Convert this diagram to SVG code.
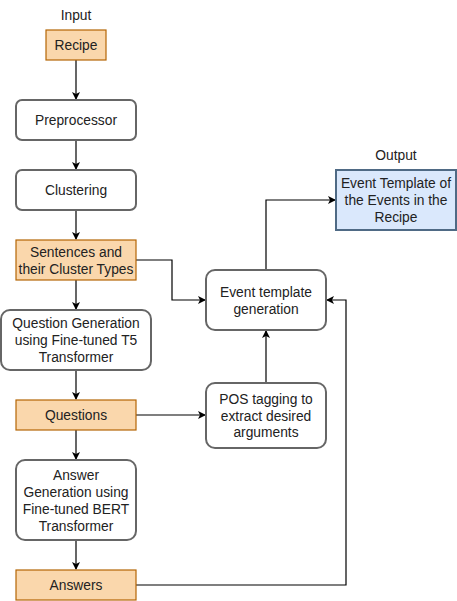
<svg xmlns="http://www.w3.org/2000/svg" width="457" height="601" viewBox="0 0 457 601">
<defs>
<marker id="arr" markerWidth="8" markerHeight="8" refX="7" refY="4" orient="auto" markerUnits="userSpaceOnUse">
<path d="M0,0 L8,4 L0,8 L2,4 Z" fill="#000"/>
</marker>
<style>
text{font-family:"Liberation Sans",Arial,sans-serif;font-size:13.8px;fill:#222;text-anchor:middle}
.org{fill:#fad7ac;stroke:#b46504;stroke-width:1.2}
.rnd{fill:#fff;stroke:#666;stroke-width:2}
.out{fill:#dae8fc;stroke:#4f6a85;stroke-width:2}
.c{fill:none;stroke:#000;stroke-width:1.2;marker-end:url(#arr)}
</style>
</defs>
<rect width="457" height="601" fill="#fff"/>
<g id="connectors">
<path class="c" d="M76,60 V99"/>
<path class="c" d="M76,140 V169"/>
<path class="c" d="M76,210 V239"/>
<path class="c" d="M76,280 V309"/>
<path class="c" d="M76,370 V399"/>
<path class="c" d="M76,430 V459"/>
<path class="c" d="M76,540 V569"/>
<path class="c" d="M136,260 H172 V300 H205"/>
<path class="c" d="M266,270 V200 H335"/>
<path class="c" d="M266,383 V331"/>
<path class="c" d="M136,415 H205"/>
<path class="c" d="M136,585 H346 V300 H327"/>
</g>
<g id="input-label"><text x="76" y="20">Input</text></g>
<g id="recipe"><rect class="org" x="46" y="30" width="60" height="30"/><text x="76" y="50">Recipe</text></g>
<g id="preprocessor"><rect class="rnd" x="16" y="100" width="120" height="40" rx="6"/><text x="76" y="125">Preprocessor</text></g>
<g id="clustering"><rect class="rnd" x="16" y="170" width="120" height="40" rx="6"/><text x="76" y="195">Clustering</text></g>
<g id="sentences"><rect class="org" x="16" y="240" width="120" height="40"/><text x="76" y="257">Sentences and</text><text x="76" y="274">their Cluster Types</text></g>
<g id="question-generation"><rect class="rnd" x="1" y="310" width="150" height="60" rx="9"/><text x="76" y="328">Question Generation</text><text x="76" y="345">using Fine-tuned T5</text><text x="76" y="362">Transformer</text></g>
<g id="questions"><rect class="org" x="16" y="400" width="120" height="30"/><text x="76" y="420">Questions</text></g>
<g id="answer-generation"><rect class="rnd" x="16" y="460" width="120" height="80" rx="9"/><text x="76" y="480">Answer</text><text x="76" y="497">Generation using</text><text x="76" y="514">Fine-tuned BERT</text><text x="76" y="531">Transformer</text></g>
<g id="answers"><rect class="org" x="16" y="570" width="120" height="30"/><text x="76" y="590">Answers</text></g>
<g id="event-template-generation"><rect class="rnd" x="206" y="270" width="120" height="60" rx="9"/><text x="266" y="297">Event template</text><text x="266" y="314">generation</text></g>
<g id="pos-tagging"><rect class="rnd" x="206" y="383" width="120" height="65" rx="9"/><text x="266" y="404">POS tagging to</text><text x="266" y="420.5">extract desired</text><text x="266" y="437">arguments</text></g>
<g id="output-label"><text x="396" y="160">Output</text></g>
<g id="output"><rect class="out" x="336" y="170" width="120" height="60"/><text x="396" y="188">Event Template of</text><text x="396" y="205">the Events in the</text><text x="396" y="222">Recipe</text></g>
</svg>
